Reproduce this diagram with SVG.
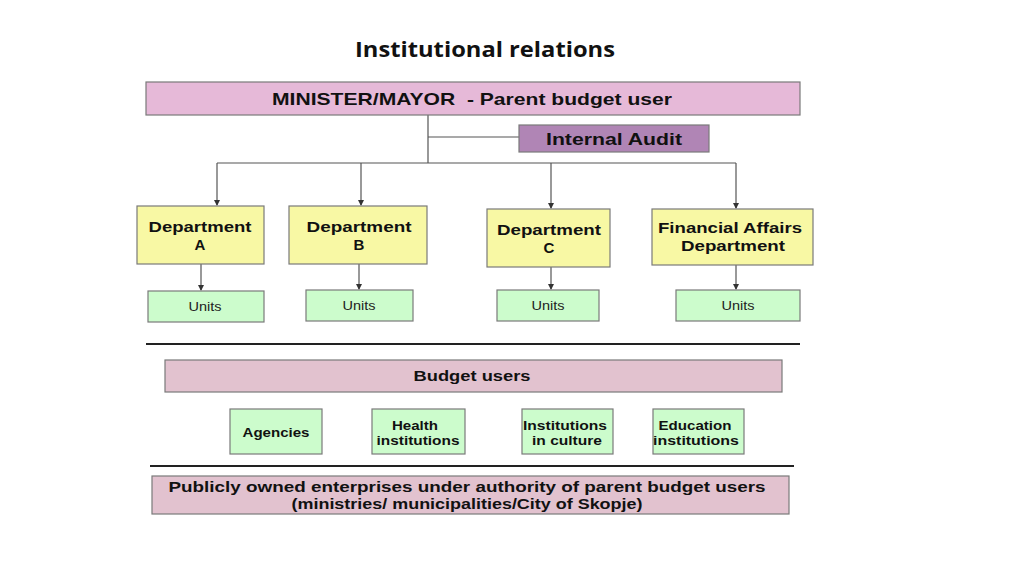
<svg xmlns="http://www.w3.org/2000/svg" width="1024" height="575" viewBox="0 0 1024 575">
<style>
.b{stroke:#7a7a7a;stroke-width:1.2}
.t{font-family:"Liberation Sans",Arial,sans-serif;font-weight:bold;fill:#111;text-anchor:middle}
.u{font-family:"Liberation Sans",Arial,sans-serif;fill:#222;text-anchor:middle;font-size:13px}
.c{stroke:#555;stroke-width:1.2;fill:none}
.dept{fill:#f8f8a4}
.green{fill:#ccfccc}
.rose{fill:#e2c2cf}
</style>
<defs>
<marker id="ar" markerWidth="6" markerHeight="6" refX="5" refY="3" orient="auto" markerUnits="userSpaceOnUse">
<path d="M0,0 L6,3 L0,6 z" fill="#333"/>
</marker>
</defs>
<rect width="1024" height="575" fill="#fff"/>
<text x="485" y="57" font-family="'Open Sans',sans-serif" font-weight="bold" font-size="21" text-anchor="middle" fill="#111" textLength="260" lengthAdjust="spacingAndGlyphs">Institutional relations</text>

<g id="connectors">
<path class="c" d="M428,115 V163 M428,137 H519 M217,163 H736"/>
<path class="c" d="M217,163 V205" marker-end="url(#ar)"/>
<path class="c" d="M361,163 V205" marker-end="url(#ar)"/>
<path class="c" d="M551,163 V208" marker-end="url(#ar)"/>
<path class="c" d="M736,163 V208" marker-end="url(#ar)"/>
<path class="c" d="M201,264 V290" marker-end="url(#ar)"/>
<path class="c" d="M359,264 V289" marker-end="url(#ar)"/>
<path class="c" d="M551,267 V289" marker-end="url(#ar)"/>
<path class="c" d="M736,265 V289" marker-end="url(#ar)"/>
<line x1="146" y1="344" x2="800" y2="344" stroke="#222" stroke-width="2"/>
<line x1="150" y1="466" x2="794" y2="466" stroke="#222" stroke-width="2"/>
</g>

<g id="minister">
<rect class="b" x="146" y="82" width="654" height="33" fill="#e6b9d8"/>
<text class="t" x="472" y="105" font-size="17" xml:space="preserve" style="white-space:pre" textLength="400" lengthAdjust="spacingAndGlyphs">MINISTER/MAYOR  - Parent budget user</text>
</g>
<g id="audit">
<rect class="b" x="519" y="125" width="190" height="27" fill="#b085b5"/>
<text class="t" x="614" y="145" font-size="17" textLength="136" lengthAdjust="spacingAndGlyphs">Internal Audit</text>
</g>

<g id="deptA">
<rect class="b dept" x="137" y="206" width="127" height="58"/>
<text class="t" x="200" y="232" font-size="15" textLength="103" lengthAdjust="spacingAndGlyphs">Department</text>
<text class="t" x="200" y="250" font-size="15">A</text>
</g>
<g id="deptB">
<rect class="b dept" x="289" y="206" width="138" height="58"/>
<text class="t" x="359" y="232" font-size="15" textLength="105" lengthAdjust="spacingAndGlyphs">Department</text>
<text class="t" x="359" y="250" font-size="15">B</text>
</g>
<g id="deptC">
<rect class="b dept" x="487" y="209" width="123" height="58"/>
<text class="t" x="549" y="235" font-size="15" textLength="104" lengthAdjust="spacingAndGlyphs">Department</text>
<text class="t" x="549" y="253" font-size="15">C</text>
</g>
<g id="deptF">
<rect class="b dept" x="652" y="209" width="161" height="56"/>
<text class="t" x="730" y="233" font-size="15" textLength="144" lengthAdjust="spacingAndGlyphs">Financial Affairs</text>
<text class="t" x="733" y="251" font-size="15" textLength="104" lengthAdjust="spacingAndGlyphs">Department</text>
</g>

<g id="unitsA">
<rect class="b green" x="148" y="291" width="116" height="31"/>
<text class="u" x="205" y="311" textLength="33" lengthAdjust="spacingAndGlyphs">Units</text>
</g>
<g id="unitsB">
<rect class="b green" x="306" y="290" width="107" height="31"/>
<text class="u" x="359" y="310" textLength="33" lengthAdjust="spacingAndGlyphs">Units</text>
</g>
<g id="unitsC">
<rect class="b green" x="497" y="290" width="102" height="31"/>
<text class="u" x="548" y="310" textLength="33" lengthAdjust="spacingAndGlyphs">Units</text>
</g>
<g id="unitsF">
<rect class="b green" x="676" y="290" width="124" height="31"/>
<text class="u" x="738" y="310" textLength="33" lengthAdjust="spacingAndGlyphs">Units</text>
</g>

<g id="budgetusers">
<rect class="b rose" x="165" y="360" width="617" height="32"/>
<text class="t" x="472" y="381" font-size="15" textLength="117" lengthAdjust="spacingAndGlyphs">Budget users</text>
</g>
<g id="agencies">
<rect class="b green" x="230" y="409" width="92" height="45"/>
<text class="t" x="276" y="437" font-size="13" textLength="67" lengthAdjust="spacingAndGlyphs">Agencies</text>
</g>
<g id="health">
<rect class="b green" x="372" y="409" width="93" height="45"/>
<text class="t" x="415" y="430" font-size="13" textLength="46" lengthAdjust="spacingAndGlyphs">Health</text>
<text class="t" x="418" y="445" font-size="13" textLength="83" lengthAdjust="spacingAndGlyphs">institutions</text>
</g>
<g id="culture">
<rect class="b green" x="522" y="409" width="91" height="45"/>
<text class="t" x="565" y="430" font-size="13" textLength="84" lengthAdjust="spacingAndGlyphs">Institutions</text>
<text class="t" x="567" y="445" font-size="13" textLength="70" lengthAdjust="spacingAndGlyphs">in culture</text>
</g>
<g id="education">
<rect class="b green" x="653" y="409" width="91" height="45"/>
<text class="t" x="695" y="430" font-size="13" textLength="73" lengthAdjust="spacingAndGlyphs">Education</text>
<text class="t" x="696" y="445" font-size="13" textLength="86" lengthAdjust="spacingAndGlyphs">institutions</text>
</g>

<g id="public">
<rect class="b rose" x="152" y="476" width="637" height="38"/>
<text class="t" x="467" y="492" font-size="15" textLength="597" lengthAdjust="spacingAndGlyphs">Publicly owned enterprises under authority of parent budget users</text>
<text class="t" x="467" y="509" font-size="15" textLength="351" lengthAdjust="spacingAndGlyphs">(ministries/ municipalities/City of Skopje)</text>
</g>
</svg>
